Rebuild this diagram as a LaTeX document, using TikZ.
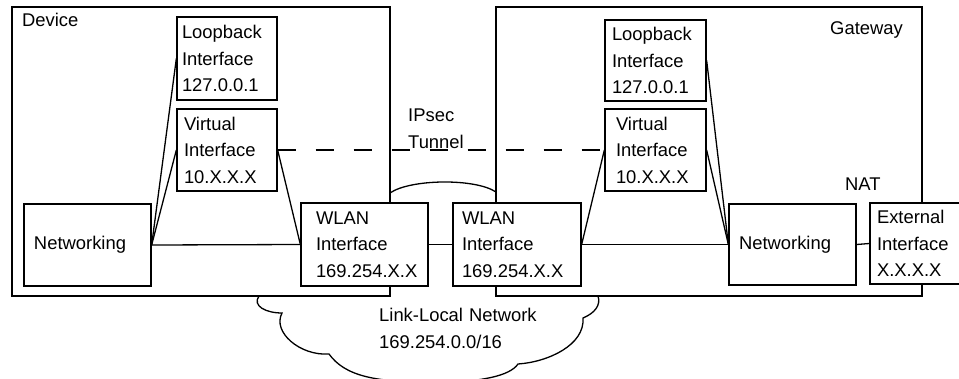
\documentclass[tikz,border=0pt]{standalone}
\usepackage{fontspec}
\setmainfont{Liberation Sans}
\begin{document}
\begin{tikzpicture}[x=1pt,y=-1pt,
  every node/.style={font=\fontsize{18.4}{26.5}\selectfont},
  ln/.style={line width=1.3pt},
  outer/.style={ln, draw, fill=white, rectangle, inner sep=0pt},
  ibox/.style={ln, draw, fill=white, rectangle, align=left, inner ysep=0pt},
  lbl/.style={inner sep=0pt, anchor=base west}
]
\useasboundingbox (0,0) rectangle (959,378);
% cloud
\draw[ln, fill=white] (259,296)
  .. controls (252,306) and (266,313) .. (282,313)
  .. controls (272,332) and (300,356) .. (329,354)
  .. controls (345,376) and (375,383) .. (440,382)
  .. controls (480,382) and (510,376) .. (518,364)
  .. controls (548,362) and (585,345) .. (583,318)
  .. controls (595,313) and (601,305) .. (598,296)
  -- (496,192)
  .. controls (475,178) and (410,179) .. (390,193)
  -- cycle;
% containers
\node[outer, minimum width=378, minimum height=289] (dev) at (201,151.5) {};
\node[outer, minimum width=426, minimum height=289] (gw) at (709,151.5) {};
\node[lbl] (devlbl) at (22,26) {Device};
\node[lbl] (gwlbl) at (830,34) {Gateway};
\node[lbl] (natlbl) at (845,190) {NAT};
\node[lbl, text width=70, align=left] (ipsec) at (408,121.5) {IPsec\\Tunnel};
\node[lbl, text width=200, align=left] (llnet) at (379,321.5) {Link-Local Network\\169.254.0.0/16};
% inner boxes
\node[ibox, minimum height=83, text width=90, inner xsep=5] (dLoop) at (227,58.5) {Loopback\\Interface\\127.0.0.1};
\node[ibox, minimum height=82, text width=86, inner xsep=7] (dVirt) at (227,150) {Virtual\\Interface\\10.X.X.X};
\node[ibox, minimum height=82, text width=107, inner xsep=10] (dNet) at (87.5,245) {Networking};
\node[ibox, minimum height=83, text width=97, inner xsep=15] (dWlan) at (364.5,244.5) {WLAN\\Interface\\169.254.X.X};
\node[ibox, minimum height=83, text width=110, inner xsep=9] (gWlan) at (517,244.5) {WLAN\\Interface\\169.254.X.X};
\node[ibox, minimum height=81, text width=87, inner xsep=7] (gLoop) at (655.5,60.5) {Loopback\\Interface\\127.0.0.1};
\node[ibox, minimum height=82, text width=79, inner xsep=11] (gVirt) at (655.5,150) {Virtual\\Interface\\10.X.X.X};
\node[ibox, minimum height=81, text width=107, inner xsep=10] (gNet) at (792.5,244.5) {Networking};
\node[ibox, minimum height=81, text width=86, inner xsep=7] (gExt) at (920,243.5) {External\\Interface\\X.X.X.X};
% connectors
\draw[ln] (dNet.east) -- (dLoop.west);
\draw[ln] (dNet.east) -- (dVirt.west);
\draw[ln] (dNet.east) -- (dWlan.west);
\draw[ln] (dVirt.east) -- (dWlan.west);
\draw[ln] (dWlan.east) -- (gWlan.west);
\draw[ln] (gWlan.east) -- (gVirt.west);
\draw[ln] (gWlan.east) -- (gNet.west);
\draw[ln] (gLoop.east) -- (gNet.west);
\draw[ln] (gVirt.east) -- (gNet.west);
\draw[ln] (gNet.east) -- (gExt.west);
\draw[ln, dash pattern=on 18pt off 20pt] (dVirt.east) -- (gVirt.west);
\end{tikzpicture}
\end{document}
